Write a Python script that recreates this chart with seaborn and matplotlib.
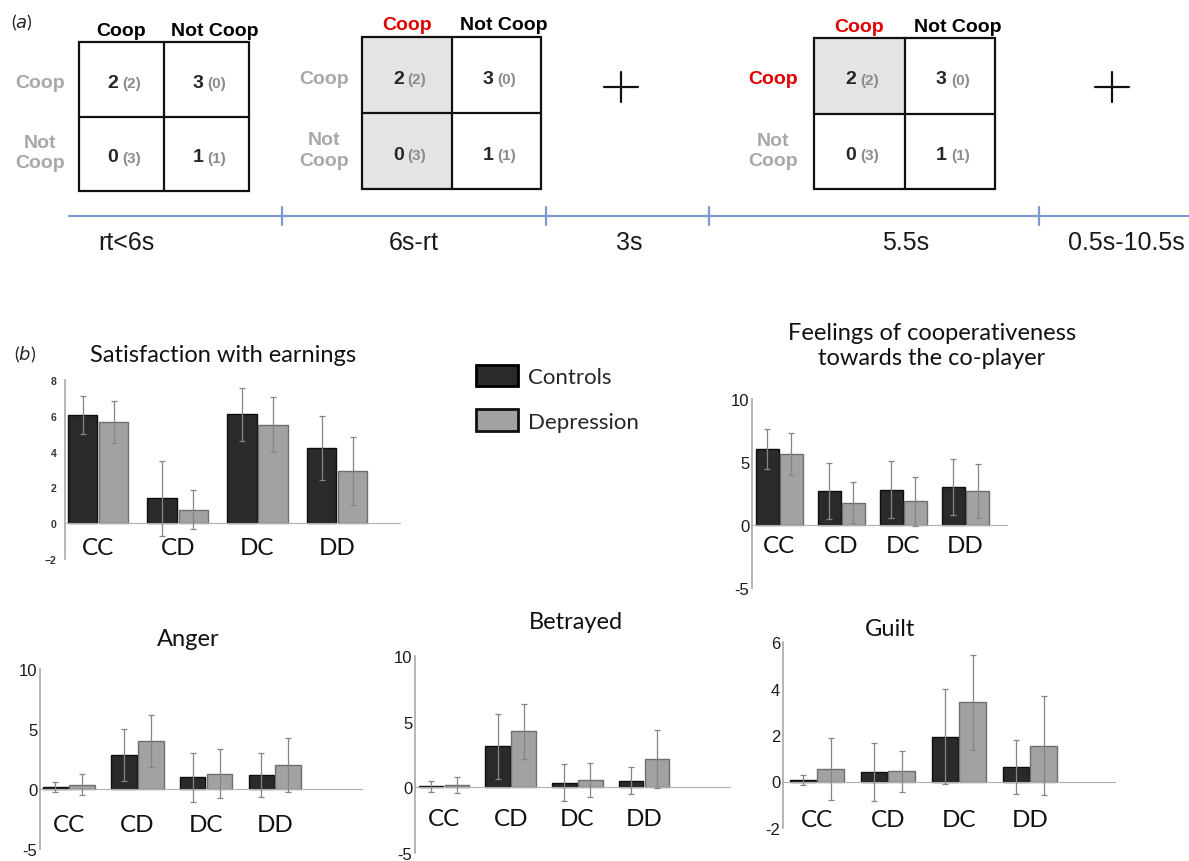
import numpy as np
import pandas as pd
import matplotlib
matplotlib.use("Agg")
import matplotlib.pyplot as plt
import seaborn as sns
from matplotlib.patches import Rectangle, Patch

# =============================================================================
# DATA
# =============================================================================

conditions = ['CC', 'CD', 'DC', 'DD']
groups = ['Controls', 'Depression']

# payoff matrix shown in panel (a): own payoff, (co-player payoff)
own_payoff = [[2, 3], [0, 1]]
other_payoff = [[2, 0], [3, 1]]
choices = ['Coop', 'Not Coop']
durations = ['rt<6s', '6s-rt', '3s', '5.5s', '0.5s-10.5s']

satisfaction_ctrl = [6.05, 1.40, 6.08, 4.20]
satisfaction_dep = [5.63, 0.76, 5.50, 2.89]
satisfaction_err_ctrl = [1.05, 2.10, 1.50, 1.80]
satisfaction_err_dep = [1.17, 1.10, 1.55, 1.90]

feelings_ctrl = [6.04, 2.69, 2.79, 3.00]
feelings_dep = [5.64, 1.78, 1.89, 2.71]
feelings_err_ctrl = [1.60, 2.20, 2.25, 2.20]
feelings_err_dep = [1.70, 1.65, 1.95, 2.15]

anger_ctrl = [0.19, 2.83, 0.97, 1.17]
anger_dep = [0.36, 4.00, 1.28, 2.03]
anger_err_ctrl = [0.40, 2.20, 2.07, 1.80]
anger_err_dep = [0.90, 2.20, 2.05, 2.25]

betrayed_ctrl = [0.08, 3.11, 0.34, 0.52]
betrayed_dep = [0.18, 4.28, 0.55, 2.15]
betrayed_err_ctrl = [0.40, 2.50, 1.40, 1.05]
betrayed_err_dep = [0.60, 2.10, 1.30, 2.20]

guilt_ctrl = [0.06, 0.41, 1.93, 0.63]
guilt_dep = [0.52, 0.44, 3.40, 1.53]
guilt_err_ctrl = [0.22, 1.25, 2.03, 1.15]
guilt_err_dep = [1.33, 0.88, 2.06, 2.13]

# =============================================================================
# STYLE
# =============================================================================

sns.set_style('white')
plt.rcParams['font.family'] = ['Lato', 'DejaVu Sans']

W, H = 1189, 862
DARK = '#2a2a2a'
GREY = '#a2a2a2'
LGREY = '#a8a8a8'
RED = '#e00000'
BLUE = '#7b9bd1'
ARIAL = ['Liberation Sans', 'DejaVu Sans']

fig = plt.figure(figsize=(W / 100, H / 100), dpi=100)


def rect(l, r, t, b):
    return [l / W, 1 - b / H, (r - l) / W, (b - t) / H]


# =============================================================================
# PANEL (a): trial timeline with payoff matrices
# =============================================================================

ax0 = fig.add_axes([0, 0, 1, 1])
ax0.set_xlim(0, W)
ax0.set_ylim(H, 0)
ax0.axis('off')

ax0.text(22, 23, r'($\mathit{a}$)', fontsize=13, ha='center', va='center')

matrices = [
    dict(box=(79, 249, 43, 192), hy=31, rx=40, shaded=[], red_col=False, red_row=False),
    dict(box=(362, 541, 38, 190), hy=25, rx=324, shaded=[(0, 0), (1, 0)], red_col=True, red_row=False),
    dict(box=(814, 995, 39, 190), hy=27, rx=773, shaded=[(0, 0)], red_col=True, red_row=True),
]

for m in matrices:
    l, r, t, b = m['box']
    cx = [(l + (l + r) / 2) / 2, ((l + r) / 2 + r) / 2]
    cy = [(t + (t + b) / 2) / 2, ((t + b) / 2 + b) / 2]
    xs = [l, (l + r) / 2, r]
    ys = [t, (t + b) / 2, b]
    for (i, j) in m['shaded']:
        ax0.add_patch(Rectangle((xs[j], ys[i]), xs[j + 1] - xs[j], ys[i + 1] - ys[i],
                                facecolor='#e4e4e4', edgecolor='none', zorder=1))
    ax0.add_patch(Rectangle((l, t), r - l, b - t, fill=False, edgecolor='#111111', lw=1.6, zorder=2))
    ax0.plot([xs[1], xs[1]], [t, b], color='#111111', lw=1.6, zorder=2)
    ax0.plot([l, r], [ys[1], ys[1]], color='#111111', lw=1.6, zorder=2)
    # column headers (co-player choice)
    ax0.text(cx[0], m['hy'], choices[0], fontsize=14, fontweight='bold', family=ARIAL,
             color=RED if m['red_col'] else 'black', ha='center', va='center')
    ax0.text(cx[1] + 8, m['hy'], choices[1], fontsize=14, fontweight='bold', family=ARIAL,
             color='black', ha='center', va='center')
    # row headers (own choice)
    ax0.text(m['rx'], cy[0] + 3, choices[0], fontsize=14, fontweight='bold', family=ARIAL,
             color=RED if m['red_row'] else LGREY, ha='center', va='center')
    ax0.text(m['rx'], cy[1] - 1, 'Not\nCoop', fontsize=14, fontweight='bold', family=ARIAL,
             color=LGREY, ha='center', va='center', linespacing=1.25)
    for i in range(2):
        for j in range(2):
            ax0.text(cx[j] - 3, cy[i] + 3, str(own_payoff[i][j]), fontsize=14, fontweight='bold',
                     family=ARIAL, ha='right', va='center', zorder=3)
            ax0.text(cx[j] + 1, cy[i] + 4, '(%d)' % other_payoff[i][j], fontsize=11, fontweight='bold',
                     family=ARIAL, color='#8c8c8c', ha='left', va='center', zorder=3)

# fixation crosses
for px in [621, 1112]:
    ax0.plot([px - 17, px + 17], [88, 88], color='#111111', lw=1.6)
    ax0.plot([px, px], [73, 103], color='#111111', lw=1.6)

# timeline
ax0.plot([69, W], [217, 217], color=BLUE, lw=1.6)
for tx in [282, 546, 709, 1039]:
    ax0.plot([tx, tx], [208, 226], color=BLUE, lw=1.6)
for lx, lab in zip([126, 414, 629, 906, 1126], durations):
    ax0.text(lx, 243, lab, fontsize=18, family=ARIAL, ha='center', va='center', color='#1a1a1a')

ax0.text(25, 355, r'($\mathit{b}$)', fontsize=13, ha='center', va='center')

# =============================================================================
# PANEL (b): ratings per outcome
# =============================================================================

panels = [
    dict(title='Satisfaction with earnings', ctrl=satisfaction_ctrl, dep=satisfaction_dep,
         ec=satisfaction_err_ctrl, ed=satisfaction_err_dep, pos=(65, 400, 381, 560),
         ylim=(-2, 8), yticks=[-2, 0, 2, 4, 6, 8], xlim=(-0.415, 3.79), title_xy=(223, 355),
         small=True, pad=10),
    dict(title='Feelings of cooperativeness\ntowards the co-player', ctrl=feelings_ctrl, dep=feelings_dep,
         ec=feelings_err_ctrl, ed=feelings_err_dep, pos=(752, 1007, 400, 589),
         ylim=(-5, 10), yticks=[-5, 0, 5, 10], xlim=(-0.438, 3.67), title_xy=(932, 346),
         small=False, pad=7),
    dict(title='Anger', ctrl=anger_ctrl, dep=anger_dep, ec=anger_err_ctrl, ed=anger_err_dep,
         pos=(40, 362, 670, 850), ylim=(-5, 10), yticks=[-5, 0, 5, 10], xlim=(-0.419, 4.27),
         title_xy=(188, 640), small=False, pad=18),
    dict(title='Betrayed', ctrl=betrayed_ctrl, dep=betrayed_dep, ec=betrayed_err_ctrl, ed=betrayed_err_dep,
         pos=(415, 730, 657, 854), ylim=(-5, 10), yticks=[-5, 0, 5, 10], xlim=(-0.435, 4.29),
         title_xy=(576, 623), small=False, pad=15),
    dict(title='Guilt', ctrl=guilt_ctrl, dep=guilt_dep, ec=guilt_err_ctrl, ed=guilt_err_dep,
         pos=(783, 1115, 643, 829), ylim=(-2, 6), yticks=[-2, 0, 2, 4, 6], xlim=(-0.475, 4.2),
         title_xy=(890, 630), small=False, pad=20),
]

for p in panels:
    ax = fig.add_axes(rect(*p['pos']))
    df = pd.DataFrame({
        'condition': conditions * 2,
        'group': [groups[0]] * 4 + [groups[1]] * 4,
        'mean': p['ctrl'] + p['dep'],
    })
    sns.barplot(data=df, x='condition', y='mean', hue='group', palette=[DARK, GREY],
                width=0.78, gap=0.05, errorbar=None, legend=False, linewidth=1, ax=ax, zorder=2)
    for cont, errs, edge in zip(ax.containers, [p['ec'], p['ed']], ['#0d0d0d', '#6e6e6e']):
        for bar in cont:
            bar.set_edgecolor(edge)
        xs = [bar.get_x() + bar.get_width() / 2 for bar in cont]
        ys = [bar.get_height() for bar in cont]
        ax.errorbar(xs, ys, yerr=errs, fmt='none', ecolor='#858585', elinewidth=0.9,
                    capsize=2.5, capthick=0.9, zorder=3)

    ax.set_xlim(*p['xlim'])
    ax.set_ylim(*p['ylim'])
    ax.set_yticks(p['yticks'])
    ax.set_xlabel('')
    ax.set_ylabel('')
    for s in ['top', 'right']:
        ax.spines[s].set_visible(False)
    ax.spines['bottom'].set_position(('data', 0))
    ax.spines['bottom'].set_color('#b0b0b0')
    ax.spines['left'].set_color('#a0a0a0')
    ax.spines['left'].set_linewidth(1.1)
    ax.patch.set_alpha(0)

    ax.tick_params(axis='x', length=0, pad=p['pad'])
    for lab in ax.get_xticklabels():
        lab.set_fontsize(17.5)
        lab.set_family(['Lato', 'DejaVu Sans'])
        lab.set_color('#111111')
    if p['small']:
        ax.tick_params(axis='y', length=0, pad=6)
        for lab in ax.get_yticklabels():
            lab.set_fontsize(7.5)
            lab.set_fontweight('bold')
            lab.set_family(ARIAL)
            lab.set_color('#333333')
    else:
        ax.tick_params(axis='y', length=0, pad=2)
        ax.set_yticklabels([str(v) for v in p['yticks']])
        for lab in ax.get_yticklabels():
            lab.set_fontsize(12)
            lab.set_family(ARIAL)
            lab.set_color('#1a1a1a')

    tx, ty = p['title_xy']
    fig.text(tx / W, 1 - ty / H, p['title'], fontsize=17, ha='center', va='center',
             linespacing=1.25, color='#111111')

# legend
handles = [Patch(facecolor=DARK, edgecolor='black', lw=2),
           Patch(facecolor=GREY, edgecolor='#111111', lw=2)]
fig.legend(handles, groups, loc='upper left', bbox_to_anchor=(476 / W, 1 - 366 / H),
           frameon=False, fontsize=16, handlelength=1.9, handleheight=1.1,
           handletextpad=0.45, labelspacing=1.0, borderpad=0, borderaxespad=0)

fig.savefig('out.png', dpi=100)
